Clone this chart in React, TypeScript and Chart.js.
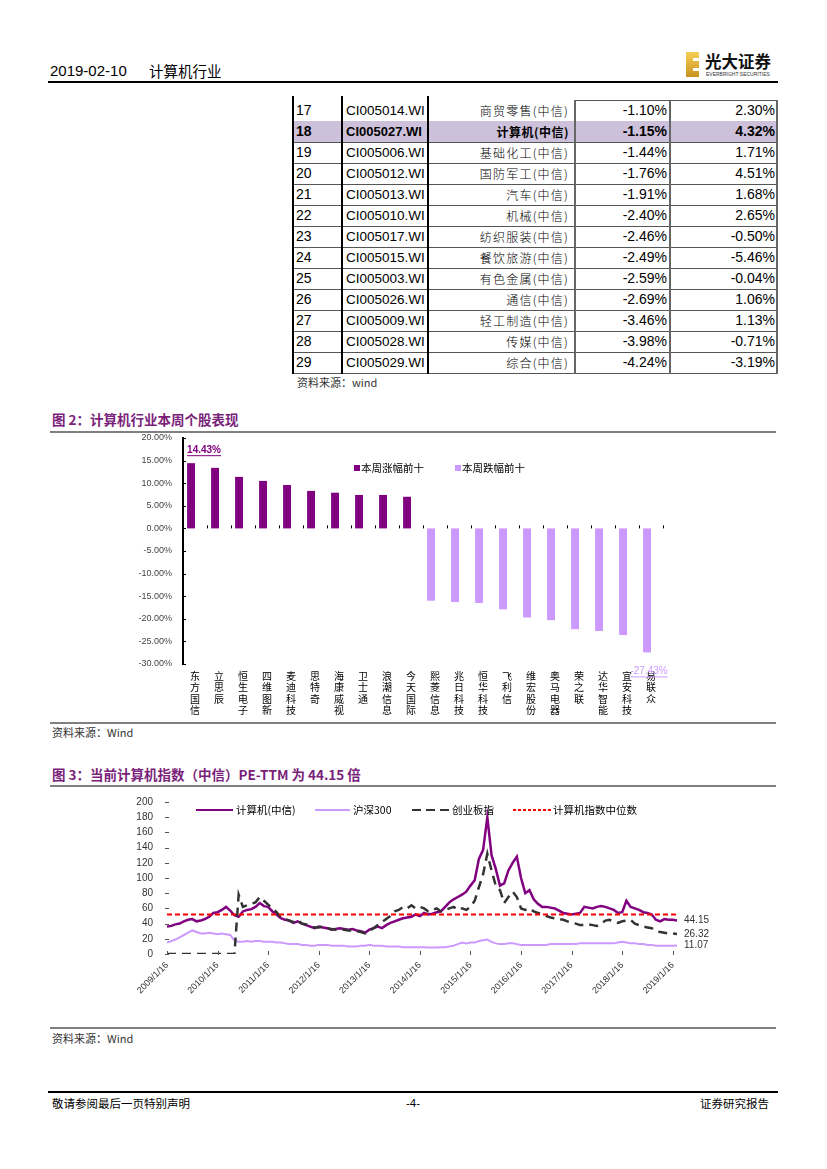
import React, { useEffect, useRef } from 'react';
import { Chart, registerables } from 'chart.js';

Chart.register(...registerables);

// ---------------- Table (industry ranking) ----------------
const tableRank = [17, 18, 19, 20, 21, 22, 23, 24, 25, 26, 27, 28, 29];
const tableCode = ['CI005014.WI', 'CI005027.WI', 'CI005006.WI', 'CI005012.WI', 'CI005013.WI', 'CI005010.WI', 'CI005017.WI', 'CI005015.WI', 'CI005003.WI', 'CI005026.WI', 'CI005009.WI', 'CI005028.WI', 'CI005029.WI'];
const tableName = ['商贸零售(中信)', '计算机(中信)', '基础化工(中信)', '国防军工(中信)', '汽车(中信)', '机械(中信)', '纺织服装(中信)', '餐饮旅游(中信)', '有色金属(中信)', '通信(中信)', '轻工制造(中信)', '传媒(中信)', '综合(中信)'];
const tableWeek = ['-1.10%', '-1.15%', '-1.44%', '-1.76%', '-1.91%', '-2.40%', '-2.46%', '-2.49%', '-2.59%', '-2.69%', '-3.46%', '-3.98%', '-4.24%'];
const tableYear = ['2.30%', '4.32%', '1.71%', '4.51%', '1.68%', '2.65%', '-0.50%', '-5.46%', '-0.04%', '1.06%', '1.13%', '-0.71%', '-3.19%'];
const highlightRank = 18;

// ---------------- Figure 2 (stock weekly returns, %) ----------------
const gainNames = ['东方国信', '立思辰', '恒生电子', '四维图新', '麦迪科技', '思特奇', '海康威视', '卫士通', '浪潮信息', '今天国际'];
const gainValues = [14.43, 13.4, 11.4, 10.5, 9.6, 8.3, 7.9, 7.4, 7.4, 7.0];
const lossNames = ['熙菱信息', '兆日科技', '恒华科技', '飞利信', '维宏股份', '奥马电器', '荣之联', '达华智能', '宜安科技', '易联众'];
const lossValues = [-16.0, -16.3, -16.5, -17.9, -19.7, -20.3, -22.3, -22.7, -23.6, -27.43];
const barAxisMin = -30;
const barAxisMax = 20;
const barAxisStep = 5;
const gainLegend = '本周涨幅前十';
const lossLegend = '本周跌幅前十';

// ---------------- Figure 3 (PE-TTM, monthly) ----------------
const peStartYear = 2009;
const peMonthCount = 122; // 2009/1 .. 2019/2
const computerPE = [
  36, 37, 39, 40, 43, 45, 46, 43, 44, 46, 49, 54,
  55, 58, 62, 57, 51, 49, 56, 58, 59, 62, 67, 63,
  62, 56, 52, 47, 45, 44, 41, 43, 40, 38, 36, 34,
  36, 35, 34, 32, 33, 34, 33, 32, 33, 31, 30, 28,
  32, 34, 36, 34, 38, 41, 43, 45, 47, 48, 49, 52,
  50, 54, 52, 53, 55, 56, 62, 68, 72, 75, 78, 82,
  90, 97, 125, 137, 180, 130, 112, 90, 93, 110, 120, 128,
  100, 80, 84, 72, 66, 62, 62, 61, 60, 57, 54, 53,
  52, 53, 54, 62, 61, 60, 62, 63, 62, 60, 58, 54,
  55, 70, 62, 60, 58, 55, 54, 52, 45, 43, 46, 45,
  45, 44.15,
];
const hs300PE = [
  15, 17, 19, 22, 25, 28, 31, 29, 27, 27, 28, 27,
  26, 27, 26, 25, 18, 16, 16, 17, 16, 17, 17, 16,
  16, 16, 15, 15, 14, 13, 13, 13, 12, 12, 11, 11,
  12, 12, 12, 11, 11, 11, 11, 10, 10, 10, 11, 11,
  12, 11, 11, 11, 10, 10, 10, 10, 9, 9, 9, 9,
  9, 9, 8.5, 8.5, 8.5, 9, 9, 10, 11, 13, 15, 14,
  15, 15, 17, 18, 19, 16, 14, 13, 13, 14, 14, 13,
  12, 12, 12, 12, 12, 12, 12, 13, 13, 13, 13, 13,
  13, 13, 14, 14, 14, 14, 14, 14, 14, 14, 14, 15,
  16, 15, 14, 14, 13, 13, 12, 12, 11, 11, 11, 11,
  11, 11.07,
];
const gemPE = [
  0, 0, 0, 0, 0, 0, 0, 0, 0, 0, 0, 0,
  0, 0, 0, 0, 0, 78, 62, 64, 66, 68, 75, 70,
  65, 60, 55, 48, 46, 44, 42, 45, 40, 39, 37, 35,
  35, 36, 34, 33, 32, 33, 32, 31, 31, 30, 29, 27,
  30, 34, 38, 42, 46, 50, 56, 58, 62, 60, 64, 60,
  62, 60, 56, 58, 60, 56, 58, 60, 62, 58, 60, 58,
  62, 70, 88, 105, 132, 110, 90, 84, 67, 75, 82, 75,
  60, 58, 60, 56, 54, 52, 50, 48, 47, 46, 45, 43,
  41, 40, 38, 38, 39, 38, 37, 40, 44, 45, 42, 41,
  43, 44, 45, 40, 38, 36, 35, 34, 30, 29, 28, 27,
  27, 26.32,
];
const computerMedianPE = 52;
const peSeriesNames = ['计算机(中信)', '沪深300', '创业板指', '计算机指数中位数'];
const peAxisMax = 200;
const peAxisStep = 20;

const peLabels: string[] = [];
for (let i = 0; i < peMonthCount; i++) {
  peLabels.push(`${peStartYear + Math.floor(i / 12)}/${(i % 12) + 1}/16`);
}

const PURPLE = '#800080';
const LILAC = '#cc99ff';
const TITLE = '#7a1f7a';
const CJK = "'Noto Sans CJK SC', sans-serif";
const LAT = "'Liberation Sans', 'Noto Sans CJK SC', sans-serif";

const noPad = (s: any) => {
  s.paddingTop = 0;
  s.paddingBottom = 0;
  s.paddingLeft = 0;
  s.paddingRight = 0;
};

function BarChart() {
  const ref = useRef<HTMLCanvasElement>(null);
  useEffect(() => {
    const canvas = ref.current!;
    const names = [...gainNames, ...lossNames];
    const values = [...gainValues, ...lossValues];
    const plugin = {
      id: 'fig2marks',
      afterDraw(chart: any) {
        const ctx = chart.ctx;
        const ca = chart.chartArea;
        const y = chart.scales.y;
        ctx.save();
        ctx.strokeStyle = '#000';
        ctx.lineWidth = 1;
        for (let v = barAxisMin; v <= barAxisMax; v += barAxisStep) {
          const py = Math.round(y.getPixelForValue(v)) + 0.5;
          ctx.beginPath();
          ctx.moveTo(ca.left, py);
          ctx.lineTo(ca.left + 3, py);
          ctx.stroke();
        }
        const y0 = y.getPixelForValue(0);
        const n = names.length;
        for (let k = 1; k <= n; k++) {
          const px = Math.round(ca.left + (k * (ca.right - ca.left)) / n) + 0.5;
          ctx.beginPath();
          ctx.moveTo(px, y0 - 3);
          ctx.lineTo(px, y0);
          ctx.stroke();
        }
        const meta = chart.getDatasetMeta(0);
        const first = meta.data[0];
        const last = meta.data[n - 1];
        ctx.font = "bold 10px 'Liberation Sans', sans-serif";
        ctx.textBaseline = 'middle';
        const t1 = values[0].toFixed(2) + '%';
        const x1 = first.x - first.width / 2;
        const yy1 = first.y - 13;
        ctx.fillStyle = PURPLE;
        ctx.textAlign = 'left';
        ctx.fillText(t1, x1, yy1);
        const w1 = ctx.measureText(t1).width;
        ctx.fillRect(x1, yy1 + 5, w1, 1);
        const t2 = values[n - 1].toFixed(2) + '%';
        ctx.font = "10px 'Liberation Sans', sans-serif";
        ctx.fillStyle = LILAC;
        ctx.textAlign = 'center';
        const x2 = last.x + 2;
        const yy2 = last.y + 19;
        ctx.fillText(t2, x2, yy2);
        const w2 = ctx.measureText(t2).width;
        ctx.fillRect(x2 - w2 / 2, yy2 + 5, w2, 1);
        ctx.restore();
      },
    };
    const chart = new Chart(canvas, {
      type: 'bar',
      data: {
        labels: names.map((s) => s.split('')),
        datasets: [
          {
            label: gainLegend,
            data: values,
            backgroundColor: values.map((v) => (v >= 0 ? PURPLE : LILAC)),
            categoryPercentage: 0.66,
            barPercentage: 1,
          },
          {
            label: lossLegend,
            data: values.map(() => null),
            backgroundColor: LILAC,
            categoryPercentage: 0.66,
            barPercentage: 1,
          },
        ],
      },
      options: {
        animation: false,
        responsive: false,
        maintainAspectRatio: false,
        layout: { padding: { top: 5, right: 37, left: 0, bottom: 0 } },
        plugins: { legend: { display: false }, tooltip: { enabled: false } },
        scales: {
          x: {
            grid: { display: false, drawTicks: false },
            border: { display: false },
            ticks: {
              autoSkip: false,
              maxRotation: 0,
              minRotation: 0,
              padding: 6,
              color: '#000',
              font: { family: CJK, size: 10, lineHeight: 1.15 },
            },
            afterFit: (s: any) => {
              s.height = 58;
              noPad(s);
            },
          },
          y: {
            min: barAxisMin,
            max: barAxisMax,
            grid: { display: false, drawTicks: false },
            border: { display: true, color: '#000', width: 2 },
            ticks: {
              autoSkip: false,
              stepSize: barAxisStep,
              padding: 11,
              color: '#444',
              font: { family: LAT, size: 9 },
              callback: (v: any) => Number(v).toFixed(2) + '%',
            },
            afterFit: (s: any) => {
              s.width = 83;
              noPad(s);
            },
          },
        },
      } as any,
      plugins: [plugin],
    });
    return () => chart.destroy();
  }, []);
  return <canvas ref={ref} width={600} height={289} style={{ position: 'absolute', left: 100, top: 433, width: 600, height: 289 }} />;
}

function LineChart() {
  const ref = useRef<HTMLCanvasElement>(null);
  useEffect(() => {
    const canvas = ref.current!;
    const plugin = {
      id: 'fig3marks',
      afterDraw(chart: any) {
        const ctx = chart.ctx;
        const ca = chart.chartArea;
        const x = chart.scales.x;
        const y = chart.scales.y;
        ctx.save();
        ctx.strokeStyle = '#555';
        ctx.lineWidth = 1;
        peLabels.forEach((l, i) => {
          if (l.split('/')[1] === '1') {
            const px = Math.round(x.getPixelForValue(i)) + 0.5;
            ctx.beginPath();
            ctx.moveTo(px, ca.bottom - 3);
            ctx.lineTo(px, ca.bottom + 1);
            ctx.stroke();
          }
        });
        for (let v = 0; v <= peAxisMax; v += peAxisStep) {
          const py = Math.round(y.getPixelForValue(v)) + 0.5;
          ctx.beginPath();
          ctx.moveTo(ca.left - 2, py);
          ctx.lineTo(ca.left + 2, py);
          ctx.stroke();
        }
        ctx.font = "10px 'Liberation Sans', sans-serif";
        ctx.fillStyle = '#333';
        ctx.textAlign = 'left';
        ctx.textBaseline = 'middle';
        const lastIdx = peMonthCount - 1;
        [computerPE, gemPE, hs300PE].forEach((arr) => {
          const v = arr[lastIdx];
          ctx.fillText(v.toFixed(2), x.getPixelForValue(lastIdx) + 7, y.getPixelForValue(v));
        });
        ctx.restore();
      },
    };
    const chart = new Chart(canvas, {
      type: 'line',
      data: {
        labels: peLabels,
        datasets: [
          { label: peSeriesNames[0], data: computerPE, borderColor: PURPLE, borderWidth: 2.5, pointRadius: 0, order: 2 },
          { label: peSeriesNames[1], data: hs300PE, borderColor: LILAC, borderWidth: 2, pointRadius: 0, order: 3 },
          { label: peSeriesNames[2], data: gemPE, borderColor: '#333333', borderWidth: 2.5, borderDash: [9, 6], pointRadius: 0, order: 1 },
          { label: peSeriesNames[3], data: peLabels.map(() => computerMedianPE), borderColor: '#ff0000', borderWidth: 2, borderDash: [5, 3], pointRadius: 0, order: 0 },
        ],
      },
      options: {
        animation: false,
        responsive: false,
        maintainAspectRatio: false,
        layout: { padding: { top: 12, right: 83, left: 0, bottom: 0 } },
        plugins: { legend: { display: false }, tooltip: { enabled: false } },
        scales: {
          x: {
            grid: { display: false, drawTicks: false },
            border: { display: false },
            ticks: {
              autoSkip: false,
              maxRotation: 45,
              minRotation: 45,
              padding: 6,
              color: '#333',
              font: { family: LAT, size: 9 },
              callback: (_v: any, i: number) => (peLabels[i].split('/')[1] === '1' ? peLabels[i] : ''),
            },
            afterFit: (s: any) => {
              s.height = 72;
              noPad(s);
            },
          },
          y: {
            min: 0,
            max: peAxisMax,
            grid: { display: false, drawTicks: false },
            border: { display: false },
            ticks: { autoSkip: false, stepSize: peAxisStep, padding: 14, color: '#333', font: { family: LAT, size: 10 } },
            afterFit: (s: any) => {
              s.width = 67;
              noPad(s);
            },
          },
        },
      } as any,
      plugins: [plugin],
    });
    return () => chart.destroy();
  }, []);
  return <canvas ref={ref} width={660} height={236} style={{ position: 'absolute', left: 100, top: 790, width: 660, height: 236 }} />;
}

const abs = (left: number, top: number, extra: React.CSSProperties = {}): React.CSSProperties => ({
  position: 'absolute',
  left,
  top,
  ...extra,
});

const colX = [293, 342, 428, 575, 670, 777];
const tableTop = 100;
const rowH = 21;

function Table() {
  const cells: React.ReactNode[] = [];
  tableRank.forEach((r, i) => {
    const top = tableTop + i * rowH;
    const bold = r === highlightRank;
    if (bold) {
      cells.push(<div key={'bg' + i} style={abs(colX[0], top, { width: colX[5] - colX[0], height: rowH, background: '#ccc0da' })} />);
    }
    const base: React.CSSProperties = { height: rowH, lineHeight: rowH + 'px', fontSize: 14, fontWeight: bold ? 700 : 400, whiteSpace: 'nowrap', fontFamily: LAT };
    cells.push(<div key={'r' + i} style={abs(colX[0] + 3, top, { ...base })}>{r}</div>);
    cells.push(<div key={'c' + i} style={abs(colX[1] + 4, top, { ...base, fontSize: bold ? 13 : 13.5 })}>{tableCode[i]}</div>);
    cells.push(
      <div key={'n' + i} style={abs(colX[2], top, { ...base, width: colX[3] - colX[2] - 6, textAlign: 'right', fontFamily: CJK, fontSize: 12, letterSpacing: bold ? 0.5 : 1.2, fontWeight: bold ? 700 : 300 })}>
        {tableName[i]}
      </div>
    );
    cells.push(<div key={'w' + i} style={abs(colX[3], top, { ...base, width: colX[4] - colX[3] - 3, textAlign: 'right' })}>{tableWeek[i]}</div>);
    cells.push(<div key={'y' + i} style={abs(colX[4], top, { ...base, width: colX[5] - colX[4] - 2, textAlign: 'right' })}>{tableYear[i]}</div>);
    cells.push(<div key={'h' + i} style={abs(colX[0], top + rowH, { width: colX[5] - colX[0], height: 1, background: '#555' })} />);
  });
  const bottom = tableTop + tableRank.length * rowH + 1;
  cells.push(<div key="topline" style={abs(colX[3], tableTop, { width: colX[5] - colX[3], height: 1, background: '#555' })} />);
  colX.forEach((x, k) => {
    const dark = k < 3;
    cells.push(<div key={'v' + k} style={abs(x - 1, tableTop - (dark ? 4 : 0), { width: dark ? 2 : 1.5, height: bottom - tableTop + (dark ? 4 : 0), background: dark ? '#000' : '#666' })} />);
  });
  return <>{cells}</>;
}

export default function App() {
  const title: React.CSSProperties = { fontFamily: CJK, fontWeight: 700, fontSize: 13.5, color: TITLE, whiteSpace: 'nowrap', lineHeight: '18px' };
  const src: React.CSSProperties = { fontFamily: CJK, fontSize: 11, color: '#333', whiteSpace: 'nowrap', lineHeight: '14px' };
  const legText: React.CSSProperties = { fontFamily: CJK, fontSize: 10.5, color: '#000', whiteSpace: 'nowrap', lineHeight: '14px' };
  return (
    <div style={{ position: 'absolute', left: 0, top: 0, width: 827, height: 1169, background: '#fff', overflow: 'hidden', color: '#000' }}>
      {/* header */}
      <div style={abs(50, 61, { fontSize: 15, fontFamily: "'Liberation Sans Narrow', 'Liberation Sans', sans-serif", whiteSpace: 'nowrap', lineHeight: '20px' })}>2019-02-10</div>
      <div style={abs(149, 61, { fontSize: 14.5, fontFamily: CJK, whiteSpace: 'nowrap', lineHeight: '20px' })}>计算机行业</div>
      <div style={abs(48, 81, { width: 730, height: 1.5, background: '#000' })} />
      {/* logo */}
      <div style={abs(686, 52, { width: 13, height: 25, background: 'linear-gradient(180deg,#f6cf55,#c99320)' })} />
      <div style={abs(693, 58, { width: 6, height: 3, background: '#fff' })} />
      <div style={abs(693, 68, { width: 6, height: 3, background: '#fff' })} />
      <div style={abs(705, 51, { fontFamily: CJK, fontWeight: 700, fontSize: 16.5, whiteSpace: 'nowrap', lineHeight: '20px', color: '#111' })}>光大证券</div>
      <div style={abs(706, 71, { fontFamily: LAT, fontSize: 5, whiteSpace: 'nowrap', lineHeight: '6px', color: '#333' })}>EVERBRIGHT SECURITIES</div>

      <Table />
      <div style={abs(297, 375, src)}>资料来源：wind</div>

      {/* figure 2 */}
      <div style={abs(52, 410, title)}>图 2：计算机行业本周个股表现</div>
      <div style={abs(50, 431, { width: 726, height: 2, background: '#808080' })} />
      <BarChart />
      <div style={abs(354, 465, { width: 6, height: 6, background: PURPLE })} />
      <div style={abs(361, 461, legText)}>{gainLegend}</div>
      <div style={abs(455, 465, { width: 6, height: 6, background: LILAC })} />
      <div style={abs(462, 461, legText)}>{lossLegend}</div>
      <div style={abs(50, 722, { width: 726, height: 1.5, background: '#808080' })} />
      <div style={abs(52, 725, src)}>资料来源：Wind</div>

      {/* figure 3 */}
      <div style={abs(52, 765, title)}>图 3：当前计算机指数（中信）PE-TTM 为 44.15 倍</div>
      <div style={abs(50, 785, { width: 726, height: 2, background: '#808080' })} />
      <LineChart />
      <div style={abs(196, 809, { width: 37, height: 2, background: PURPLE })} />
      <div style={abs(236, 803, legText)}>{peSeriesNames[0]}</div>
      <div style={abs(315, 809, { width: 35, height: 2, background: LILAC })} />
      <div style={abs(353, 803, legText)}>{peSeriesNames[1]}</div>
      <div style={abs(412, 809, { width: 38, height: 2, background: 'repeating-linear-gradient(90deg,#333 0 9px,transparent 9px 14px)' })} />
      <div style={abs(452, 803, legText)}>{peSeriesNames[2]}</div>
      <div style={abs(513, 809, { width: 38, height: 1.5, background: 'repeating-linear-gradient(90deg,#ff0000 0 3px,transparent 3px 5px)' })} />
      <div style={abs(553, 803, legText)}>{peSeriesNames[3]}</div>
      <div style={abs(50, 1027, { width: 726, height: 1.5, background: '#808080' })} />
      <div style={abs(52, 1031, src)}>资料来源：Wind</div>

      {/* footer */}
      <div style={abs(48, 1091, { width: 730, height: 1.5, background: '#000' })} />
      <div style={abs(52, 1096, { ...src, fontSize: 11.5, color: '#000' })}>敬请参阅最后一页特别声明</div>
      <div style={abs(406, 1096, { ...src, fontSize: 11.5, color: '#000', fontFamily: LAT })}>-4-</div>
      <div style={abs(700, 1096, { ...src, fontSize: 11.5, color: '#000' })}>证券研究报告</div>
    </div>
  );
}
